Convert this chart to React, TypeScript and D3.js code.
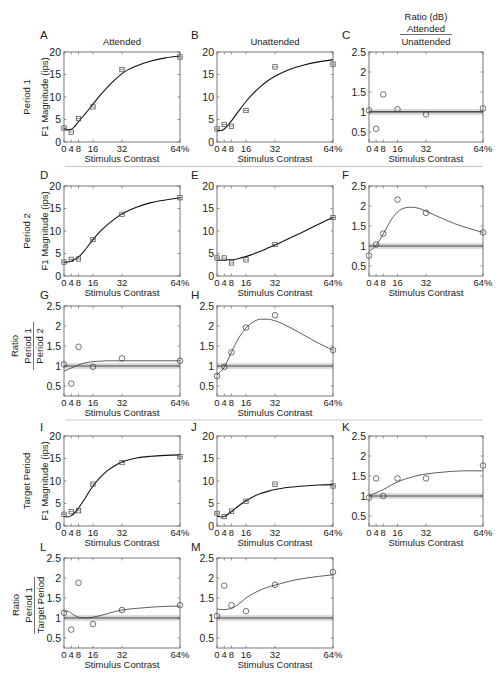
import React from 'react';
import * as d3 from 'd3';

const contrasts = [0, 4, 8, 16, 32, 64];
const xTickLabels = ['0', '4', '8', '16', '32', '64%'];
const magTicks = [0, 5, 10, 15, 20];
const ratioTicks = [0.5, 1, 1.5, 2, 2.5];
const fitX = [0, 2, 4, 6, 8, 12, 16, 20, 24, 28, 32, 40, 48, 56, 64];

const aPts = [3.1, 2.2, 5.2, 7.8, 16.1, 18.9];
const aFit = [3.0, 2.7, 2.8, 3.5, 4.5, 6.4, 8.4, 10.4, 12.2, 13.8, 15.2, 16.9, 18.0, 18.7, 19.1];
const bPts = [2.9, 3.9, 3.5, 7.0, 16.7, 17.3];
const bFit = [2.6, 2.5, 2.9, 3.7, 4.7, 6.9, 9.0, 10.8, 12.3, 13.6, 14.6, 16.1, 17.1, 17.8, 18.3];
const cPts = [1.04, 0.58, 1.44, 1.07, 0.94, 1.09];
const cFit = [1.01, 1.01, 1.01, 1.01, 1.01, 1.01, 1.01, 1.01, 1.01, 1.01, 1.01, 1.01, 1.01, 1.01, 1.01];
const dPts = [3.1, 3.7, 3.8, 8.1, 13.7, 17.4];
const dFit = [3.0, 3.1, 3.3, 3.7, 4.2, 6.0, 8.1, 9.9, 11.4, 12.7, 13.8, 15.3, 16.3, 16.9, 17.4];
const ePts = [4.0, 4.0, 2.9, 3.6, 7.0, 13.0];
const eFit = [3.5, 3.5, 3.5, 3.6, 3.6, 3.9, 4.3, 4.9, 5.5, 6.2, 6.9, 8.4, 9.9, 11.5, 13.0];
const fPts = [0.76, 1.04, 1.31, 2.16, 1.83, 1.34];
const fFit = [0.87, 0.93, 1.02, 1.15, 1.3, 1.62, 1.85, 1.95, 1.97, 1.94, 1.87, 1.71, 1.56, 1.44, 1.34];
const gPts = [1.04, 0.56, 1.48, 0.98, 1.19, 1.13];
const gFit = [0.87, 0.91, 0.95, 0.99, 1.03, 1.08, 1.11, 1.12, 1.13, 1.13, 1.13, 1.13, 1.13, 1.13, 1.13];
const hPts = [0.75, 0.98, 1.34, 1.96, 2.27, 1.4];
const hFit = [0.78, 0.86, 0.97, 1.15, 1.35, 1.7, 1.95, 2.1, 2.17, 2.17, 2.13, 1.97, 1.77, 1.57, 1.4];
const iPts = [2.6, 3.2, 3.4, 9.3, 14.1, 15.4];
const iFit = [2.1, 2.0, 2.3, 3.0, 4.0, 6.4, 8.9, 10.8, 12.3, 13.4, 14.2, 15.1, 15.5, 15.7, 15.8];
const jPts = [2.8, 2.1, 3.3, 5.5, 9.3, 8.9];
const jFit = [2.2, 2.0, 2.1, 2.6, 3.2, 4.5, 5.6, 6.5, 7.2, 7.7, 8.1, 8.6, 8.9, 9.1, 9.2];
const kPts = [0.96, 1.44, 1.0, 1.44, 1.44, 1.76];
const kFit = [1.0, 1.04, 1.08, 1.12, 1.16, 1.26, 1.35, 1.42, 1.47, 1.52, 1.55, 1.59, 1.62, 1.63, 1.63];
const lPts = [1.13, 0.71, 1.88, 0.85, 1.2, 1.32];
const lFit = [1.15, 1.17, 1.12, 1.06, 1.02, 1.0, 1.02, 1.06, 1.11, 1.16, 1.2, 1.24, 1.27, 1.29, 1.3];
const mPts = [1.05, 1.81, 1.32, 1.17, 1.83, 2.15];
const mFit = [1.23, 1.21, 1.21, 1.22, 1.24, 1.35, 1.5, 1.61, 1.7, 1.77, 1.82, 1.92, 1.99, 2.04, 2.08];

type Kind = 'mag' | 'ratio';
interface Panel { letter: string; col: number; row: number; kind: Kind; pts: number[]; fit: number[]; }

const panels: Panel[] = [
  { letter: 'A', col: 0, row: 0, kind: 'mag', pts: aPts, fit: aFit },
  { letter: 'B', col: 1, row: 0, kind: 'mag', pts: bPts, fit: bFit },
  { letter: 'C', col: 2, row: 0, kind: 'ratio', pts: cPts, fit: cFit },
  { letter: 'D', col: 0, row: 1, kind: 'mag', pts: dPts, fit: dFit },
  { letter: 'E', col: 1, row: 1, kind: 'mag', pts: ePts, fit: eFit },
  { letter: 'F', col: 2, row: 1, kind: 'ratio', pts: fPts, fit: fFit },
  { letter: 'G', col: 0, row: 2, kind: 'ratio', pts: gPts, fit: gFit },
  { letter: 'H', col: 1, row: 2, kind: 'ratio', pts: hPts, fit: hFit },
  { letter: 'I', col: 0, row: 3, kind: 'mag', pts: iPts, fit: iFit },
  { letter: 'J', col: 1, row: 3, kind: 'mag', pts: jPts, fit: jFit },
  { letter: 'K', col: 2, row: 3, kind: 'ratio', pts: kPts, fit: kFit },
  { letter: 'L', col: 0, row: 4, kind: 'ratio', pts: lPts, fit: lFit },
  { letter: 'M', col: 1, row: 4, kind: 'ratio', pts: mPts, fit: mFit },
];

const colLeft = [64, 217, 369];
const colWidth = [116, 116, 114];
const rowTop = [52, 186, 306, 436, 558];
const plotH = 90;
const letterBase = [39, 179, 299, 431, 551];
const letterX = [40, 191, 342];

const FONT = '"Liberation Sans", Arial, Helvetica, sans-serif';
const TXT = '#222';
const AX = '#555';

function PanelView({ p }: { p: Panel }) {
  const x0 = colLeft[p.col];
  const w = colWidth[p.col];
  const y0 = rowTop[p.row];
  const x = d3.scaleLinear().domain([0, 64]).range([x0, x0 + w]);
  const y = p.kind === 'mag'
    ? d3.scaleLinear().domain([0, 20]).range([y0 + plotH, y0])
    : d3.scaleLinear().domain([0.25, 2.5]).range([y0 + plotH, y0]);
  const yTicks = p.kind === 'mag' ? magTicks : ratioTicks;
  const line = d3.line<number>()
    .x((_, i) => x(fitX[i]))
    .y((d) => y(d))
    .curve(d3.curveMonotoneX);
  const bottom = y0 + plotH;
  const tl = 2.5;
  return (
    <g>
      {p.kind === 'ratio' && (
        <g>
          <rect x={x(0)} y={y(1.07)} width={x(64) - x(0)} height={y(0.93) - y(1.07)} fill="#d6d6d6" />
          <line x1={x(0)} x2={x(64)} y1={y(1)} y2={y(1)} stroke="#7a7a7a" strokeWidth={1.6} />
        </g>
      )}
      <path d={line(p.fit) || ''} fill="none" stroke={p.kind === 'mag' ? '#111' : '#333'} strokeWidth={p.kind === 'mag' ? 1.1 : 0.8} />
      {p.pts.map((v, i) => p.kind === 'mag' ? (
        <g key={i}>
          <rect x={x(contrasts[i]) - 2.2} y={y(v) - 2.2} width={4.4} height={4.4} fill="none" stroke="#444" strokeWidth={0.7} />
          <line x1={x(contrasts[i]) - 2.2} x2={x(contrasts[i]) + 2.2} y1={y(v)} y2={y(v)} stroke="#444" strokeWidth={0.6} />
        </g>
      ) : (
        <circle key={i} cx={x(contrasts[i])} cy={y(v)} r={2.8} fill="none" stroke="#333" strokeWidth={0.7} />
      ))}
      <rect x={x0} y={y0} width={w} height={plotH} fill="none" stroke={AX} strokeWidth={0.8} />
      {contrasts.map((c, i) => (
        <g key={'xt' + i}>
          <line x1={x(c)} x2={x(c)} y1={bottom} y2={bottom - tl} stroke={AX} strokeWidth={0.6} />
          <line x1={x(c)} x2={x(c)} y1={y0} y2={y0 + tl} stroke={AX} strokeWidth={0.6} />
          <text x={x(c)} y={bottom + 9.5} textAnchor="middle" fontSize={9.5} fill={TXT}>{xTickLabels[i]}</text>
        </g>
      ))}
      {yTicks.map((t, i) => (
        <g key={'yt' + i}>
          <line x1={x0} x2={x0 + tl} y1={y(t)} y2={y(t)} stroke={AX} strokeWidth={0.6} />
          <line x1={x0 + w} x2={x0 + w - tl} y1={y(t)} y2={y(t)} stroke={AX} strokeWidth={0.6} />
          <text x={x0 - 3} y={y(t)} dy="0.36em" textAnchor="end" fontSize={10.5} fill={TXT}>{String(t)}</text>
        </g>
      ))}
      <text x={x0 + w / 2} y={bottom + 19.5} textAnchor="middle" fontSize={9.5} fill={TXT}>Stimulus Contrast</text>
      <text x={letterX[p.col]} y={letterBase[p.row]} fontSize={11.5} fill={TXT}>{p.letter}</text>
    </g>
  );
}

function RotText({ x, y, children, size = 9.5 }: { x: number; y: number; children: React.ReactNode; size?: number }) {
  return (
    <text transform={`translate(${x},${y}) rotate(-90)`} textAnchor="middle" fontSize={size} fill={TXT}>{children}</text>
  );
}

export default function App() {
  const mid = (r: number) => rowTop[r] + plotH / 2;
  return (
    <svg width={500} height={684} style={{ position: 'absolute', left: 0, top: 0, background: '#fff' }} fontFamily={FONT}>
      <rect x={0} y={0} width={500} height={684} fill="#fff" />
      {/* column titles */}
      <text x={122} y={45} textAnchor="middle" fontSize={9.5} fill={TXT}>Attended</text>
      <text x={275} y={45} textAnchor="middle" fontSize={9.5} fill={TXT}>Unattended</text>
      <text x={426} y={20} textAnchor="middle" fontSize={9.5} fill={TXT}>Ratio (dB)</text>
      <text x={426} y={32} textAnchor="middle" fontSize={9.5} fill={TXT}>Attended</text>
      <line x1={400} x2={452} y1={34.5} y2={34.5} stroke="#333" strokeWidth={0.7} />
      <text x={426} y={45} textAnchor="middle" fontSize={9.5} fill={TXT}>Unattended</text>
      {/* separators */}
      <line x1={65} x2={483} y1={166.5} y2={166.5} stroke="#bbb" strokeWidth={0.8} />
      <line x1={65} x2={483} y1={420} y2={420} stroke="#bbb" strokeWidth={0.8} />
      {/* row labels */}
      <RotText x={30} y={mid(0)}>Period 1</RotText>
      <RotText x={48} y={mid(0)}>F1 Magnitude (ips)</RotText>
      <RotText x={30} y={mid(1)}>Period 2</RotText>
      <RotText x={48} y={mid(1)}>F1 Magnitude (ips)</RotText>
      <RotText x={30} y={mid(3)}>Target Period</RotText>
      <RotText x={48} y={mid(3)}>F1 Magnitude (ips)</RotText>
      {/* ratio labels row 3 */}
      <RotText x={17.5} y={346}>Ratio</RotText>
      <RotText x={30.5} y={346}>Period 1</RotText>
      <line x1={33.5} x2={33.5} y1={322} y2={370} stroke="#333" strokeWidth={0.7} />
      <RotText x={43} y={346}>Period 2</RotText>
      {/* ratio labels row 5 */}
      <RotText x={19} y={605}>Ratio</RotText>
      <RotText x={32} y={605}>Period 1</RotText>
      <line x1={34.5} x2={34.5} y1={577} y2={634} stroke="#333" strokeWidth={0.7} />
      <RotText x={44} y={605}>Target Period</RotText>
      {panels.map((p) => <PanelView key={p.letter} p={p} />)}
    </svg>
  );
}
